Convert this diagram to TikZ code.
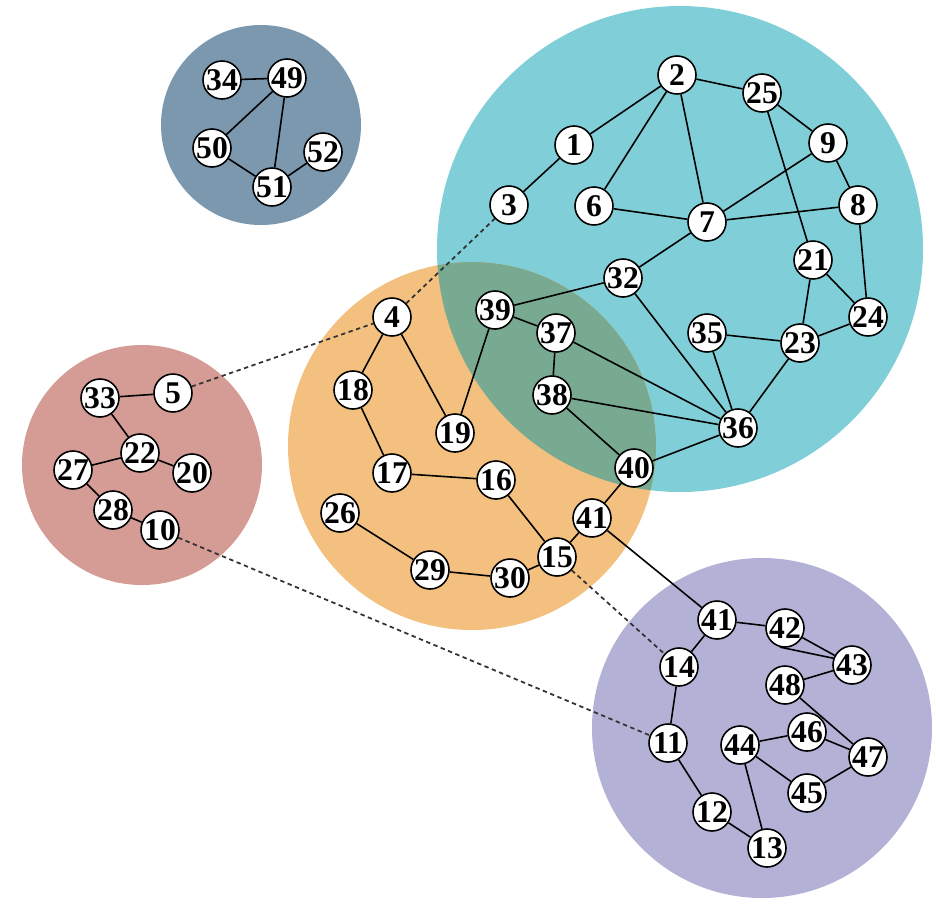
\documentclass[tikz,border=0pt]{standalone}
\usepackage{fontspec}
\setmainfont{Liberation Serif}
\usepackage{tikz}
\usetikzlibrary{calc}
\pgfdeclarelayer{disks}
\pgfdeclarelayer{links}
\pgfsetlayers{disks,links,main}
\definecolor{cteal}{RGB}{128,207,216}
\definecolor{corange}{RGB}{243,192,128}
\definecolor{cmix}{RGB}{120,170,145}
\definecolor{cpink}{RGB}{213,155,149}
\definecolor{cslate}{RGB}{123,152,174}
\definecolor{cviolet}{RGB}{180,177,214}
\tikzset{
  vtx/.style={draw, circle, fill=white, line width=0.9pt, inner sep=0pt, minimum size=0.76cm, font=\fontsize{18}{18}\selectfont\bfseries},
  link/.style={line width=0.9pt},
  weak/.style={line width=1pt, dash pattern=on 2.5pt off 2pt, black!80}
}
\begin{document}
\begin{tikzpicture}[x=0.02cm, y=-0.02cm]
		\useasboundingbox (0,0) rectangle (936,903);
		
		\begin{pgfonlayer}{disks}
		\fill[cteal] (680,249) circle (243);
		\fill[corange] (472,446) circle (184);
		\begin{scope}
			\clip (472,446) circle (184);
			\fill[cmix] (680,249) circle (243);
		\end{scope}
		\fill[cpink] (142,465) circle (120);
		\fill[cslate] (261,125) circle (100);
		\fill[cviolet] (762,728) circle (170);
		\end{pgfonlayer}
		
		\node[vtx] (v1) at (574,145) {1};
		\node[vtx] (v2) at (677,75) {2};
		\node[vtx] (v3) at (509,205) {3};
		\node[vtx] (v4) at (392,317) {4};
		\node[vtx] (v5) at (173,393) {5};
		\node[vtx] (v6) at (594,206) {6};
		\node[vtx] (v7) at (707,222) {7};
		\node[vtx] (v8) at (858,205) {8};
		\node[vtx] (v9) at (828,143) {9};
		\node[vtx] (v10) at (160,530) {10};
		\node[vtx] (v11) at (668,743) {11};
		\node[vtx] (v12) at (712,812) {12};
		\node[vtx] (v13) at (767,848) {13};
		\node[vtx] (v14) at (679,667) {14};
		\node[vtx] (v15) at (557,557) {15};
		\node[vtx] (v16) at (496,480) {16};
		\node[vtx] (v17) at (392,473) {17};
		\node[vtx] (v18) at (353,390) {18};
		\node[vtx] (v19) at (455,433) {19};
		\node[vtx] (v20) at (192,473) {20};
		\node[vtx] (v21) at (813,260) {21};
		\node[vtx] (v22) at (140,453) {22};
		\node[vtx] (v23) at (800,343) {23};
		\node[vtx] (v24) at (868,317) {24};
		\node[vtx] (v25) at (762,93) {25};
		\node[vtx] (v26) at (340,513) {26};
		\node[vtx] (v27) at (73,470) {27};
		\node[vtx] (v28) at (113,510) {28};
		\node[vtx] (v29) at (430,570) {29};
		\node[vtx] (v30) at (510,578) {30};
		\node[vtx] (v32) at (623,278) {32};
		\node[vtx] (v33) at (100,398) {33};
		\node[vtx] (v34) at (222,80) {34};
		\node[vtx] (v35) at (707,333) {35};
		\node[vtx] (v36) at (738,428) {36};
		\node[vtx] (v37) at (556,333) {37};
		\node[vtx] (v38) at (552,395) {38};
		\node[vtx] (v39) at (495,310) {39};
		\node[vtx] (v40) at (634,468) {40};
		\node[vtx] (v41) at (592,518) {41};
		\node[vtx] (v41b) at (717,620) {41};
		\node[vtx] (v42) at (785,628) {42};
		\node[vtx] (v43) at (852,665) {43};
		\node[vtx] (v44) at (740,745) {44};
		\node[vtx] (v45) at (807,793) {45};
		\node[vtx] (v46) at (807,732) {46};
		\node[vtx] (v47) at (868,757) {47};
		\node[vtx] (v48) at (785,685) {48};
		\node[vtx] (v49) at (287,78) {49};
		\node[vtx] (v50) at (212,148) {50};
		\node[vtx] (v51) at (272,187) {51};
		\node[vtx] (v52) at (323,152) {52};
		
		\begin{pgfonlayer}{links}
		\foreach \a/\b in {2/1,2/6,2/7,2/25,25/9,25/21,9/7,9/8,6/7,7/8,1/3,7/32,8/24,21/24,21/23,24/23,35/23,35/36,23/36,32/39,32/36,39/37,39/19,37/38,37/36,38/36,38/40,40/36,40/41,
			4/18,4/19,18/17,17/16,16/15,26/29,29/30,30/15,15/41,41/41b,
			41b/42,41b/14,42/43,48/43,48/47,14/11,11/12,12/13,44/13,44/46,44/45,46/47,45/47,
			33/5,33/22,22/27,22/20,27/28,28/10,
			34/49,49/50,49/51,50/51,51/52}
			\draw[link] (v\a) -- (v\b);
		\draw[link] (v42.255) -- (v43.160);
		
		\foreach \a/\b in {5/4,4/3,15/14,10/11}
			\draw[weak] (v\a) -- (v\b);
		\end{pgfonlayer}
\end{tikzpicture}
\end{document}
